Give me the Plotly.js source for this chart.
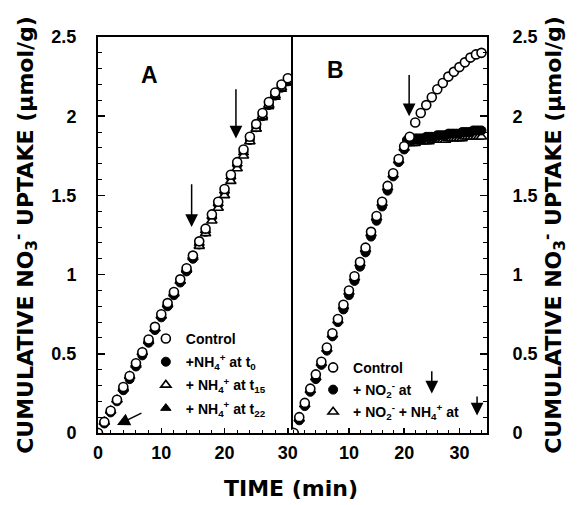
<!DOCTYPE html>
<html>
<head>
<meta charset="utf-8">
<script src="https://cdn.plot.ly/plotly-3.0.1.min.js"></script>
<style>html,body{margin:0;padding:0;background:#fff;}#chart{width:577px;height:505px;}</style>
</head>
<body>
<div id="chart"></div>
<script>
// ---------- Panel A data (time in min, cumulative NO3- uptake in umol/g) ----------
const timeA = [0,1,2,3,4,5,6,7,8,9,10,11,12,13,14,15,16,17,18,19,20,21,22,23,24,25,26,27,28,29,30];
const controlA = [0,0.07,0.14,0.21,0.29,0.36,0.44,0.51,0.59,0.67,0.75,0.82,0.89,0.97,1.04,1.12,1.21,1.29,1.38,1.46,1.54,1.63,1.71,1.79,1.87,1.95,2.02,2.09,2.15,2.20,2.24];
const nh4t0A = [0,0.06,0.13,0.20,0.27,0.34,0.42,0.49,0.57,0.65,0.73,0.80,0.87,0.95,1.02,1.10,1.19,1.27,1.36,1.44,1.52,1.61,1.69,1.77,1.85,1.93,2.00,2.07,2.13,2.18,2.22];
const nh4t15A = [0,0.07,0.14,0.21,0.28,0.36,0.43,0.51,0.58,0.66,0.74,0.81,0.88,0.96,1.03,1.11,1.18,1.26,1.34,1.42,1.50,1.59,1.67,1.75,1.84,1.92,2.00,2.07,2.13,2.18,2.22];
const nh4t22A = [0,0.07,0.14,0.21,0.29,0.36,0.44,0.51,0.59,0.66,0.74,0.82,0.89,0.96,1.04,1.12,1.20,1.28,1.37,1.45,1.53,1.62,1.70,1.77,1.84,1.92,1.99,2.06,2.12,2.17,2.21];

// ---------- Panel B data ----------
const timeB = [0,1,2,3,4,5,6,7,8,9,10,11,12,13,14,15,16,17,18,19,20,21,22,23,24,25,26,27,28,29,30,31,32,33,34];
const controlB = [0,0.10,0.19,0.28,0.37,0.45,0.54,0.63,0.72,0.81,0.90,0.99,1.08,1.17,1.27,1.37,1.46,1.56,1.64,1.73,1.81,1.87,1.96,2.02,2.07,2.12,2.17,2.21,2.25,2.28,2.31,2.34,2.37,2.39,2.40];
const timeBtreated = [0,1,2,3,4,5,6,7,8,9,10,11,12,13,14,15,16,17,18,19,20,20.5,21,21.5,22,22.5,23,23.5,24,24.5,25,25.5,26,26.5,27,27.5,28,28.5,29,29.5,30,30.5,31,31.5,32,32.5,33,33.5,34];
const no2B = [0,0.08,0.17,0.26,0.34,0.43,0.52,0.61,0.70,0.78,0.87,0.96,1.05,1.14,1.24,1.34,1.43,1.53,1.62,1.71,1.79,
  1.85,1.85,1.85,1.86,1.86,1.86,1.86,1.87,1.87,1.87,1.87,1.88,1.88,1.88,1.88,1.89,1.89,1.89,1.89,1.89,1.90,1.90,1.90,1.90,1.91,1.91,1.91,1.91];
const no2nh4B = [0,0.09,0.18,0.27,0.35,0.44,0.53,0.62,0.71,0.80,0.89,0.98,1.07,1.16,1.26,1.36,1.45,1.55,1.63,1.72,1.80,
  1.83,1.83,1.83,1.83,1.84,1.84,1.84,1.84,1.84,1.85,1.85,1.85,1.85,1.85,1.85,1.86,1.86,1.86,1.86,1.86,1.86,1.87,1.87,1.87,1.87,1.87,1.87,1.87];

// ---------- Labels ----------
const yTitle = 'CUMULATIVE NO<sub>3</sub><sup>-</sup> UPTAKE (μmol/g)';
const xTitle = 'TIME (min)';
const namesA = ['Control', '+NH<sub>4</sub><sup>+</sup> at t<sub>0</sub>', '+ NH<sub>4</sub><sup>+</sup> at t<sub>15</sub>', '+ NH<sub>4</sub><sup>+</sup> at t<sub>22</sub>'];
const namesB = ['Control', '+ NO<sub>2</sub><sup>-</sup> at', '+ NO<sub>2</sub><sup>-</sup> + NH<sub>4</sub><sup>+</sup> at'];
const yTicks = [0, 0.5, 1, 1.5, 2, 2.5];
const yTickText = ['0', '0.5', '1', '1.5', '2', '2.5'];
const xTicksA = [0, 10, 20, 30];
const xTickTextA = ['0', '10', '20', '30'];
const xTicksB = [10, 20, 30];
const xTickTextB = ['10', '20', '30'];

const bold = (arr) => arr.map(s => '<b>' + s + '</b>');

const MS = 9;
const openMarker = (sym) => ({symbol: sym, size: MS, color: '#fff', line: {color: '#000', width: 1.6}});
const fillMarker = (sym) => ({symbol: sym, size: MS, color: '#000', line: {color: '#000', width: 1}});

const data = [
  {x: timeA, y: nh4t0A, name: namesA[1], mode: 'markers', marker: fillMarker('circle'), xaxis: 'x', yaxis: 'y', legend: 'legend', legendgroup: 'a1', legendrank: 2},
  {x: timeA, y: nh4t22A, name: namesA[3], mode: 'markers', marker: fillMarker('triangle-up'), xaxis: 'x', yaxis: 'y', legend: 'legend', legendgroup: 'a3', legendrank: 4},
  {x: timeA, y: nh4t15A, name: namesA[2], mode: 'markers', marker: openMarker('triangle-up'), xaxis: 'x', yaxis: 'y', legend: 'legend', legendgroup: 'a2', legendrank: 3},
  {x: timeA, y: controlA, name: namesA[0], mode: 'markers', marker: openMarker('circle'), xaxis: 'x', yaxis: 'y', legend: 'legend', legendgroup: 'a0', legendrank: 1},
  {x: timeBtreated, y: no2nh4B, name: namesB[2], mode: 'markers', marker: openMarker('triangle-up'), xaxis: 'x2', yaxis: 'y2', legend: 'legend2', legendgroup: 'b2', legendrank: 3},
  {x: timeBtreated, y: no2B, name: namesB[1], mode: 'markers', marker: fillMarker('circle'), xaxis: 'x2', yaxis: 'y2', legend: 'legend2', legendgroup: 'b1', legendrank: 2},
  {x: timeB, y: controlB, name: namesB[0], mode: 'markers', marker: openMarker('circle'), xaxis: 'x2', yaxis: 'y2', legend: 'legend2', legendgroup: 'b0', legendrank: 1}
];

const tickFont = {family: 'Liberation Sans, Arial, sans-serif', size: 18, color: '#000'};
const titleFont = {family: 'DejaVu Sans, sans-serif', size: 22, color: '#000', weight: 'bold'};
const legFont = {family: 'Liberation Sans, Arial, sans-serif', size: 14, color: '#000', weight: 'bold'};
const split = 0.4961;

const axisCommon = {showline: true, linewidth: 2, linecolor: '#000', showgrid: false, zeroline: false,
  ticks: 'inside', tickcolor: '#000', tickwidth: 1.5, tickfont: tickFont};

const arrow = (xref, yref, x, y, ax, ay) => ({xref, yref, axref: xref, ayref: yref, x, y, ax, ay, text: '',
  showarrow: true, arrowhead: 2, arrowsize: 1.7, arrowwidth: 1.5, arrowcolor: '#000', standoff: 0});

const layout = {
  width: 577, height: 505,
  margin: {l: 98, r: 90, t: 37, b: 72},
  paper_bgcolor: '#fff', plot_bgcolor: '#fff',
  showlegend: true,
  xaxis: Object.assign({}, axisCommon, {domain: [0, split], range: [0, 30.5], anchor: 'y', mirror: true, tickmode: 'array', tickvals: xTicksA, ticktext: bold(xTickTextA),
    ticklen: 5, ticklabelstandoff: 2, minor: {dtick: 2, tick0: 0, ticks: 'inside', ticklen: 3, tickcolor: '#000', tickwidth: 1}}),
  xaxis2: Object.assign({}, axisCommon, {domain: [split, 1], range: [-0.5, 35], anchor: 'y2', mirror: true, tickmode: 'array', tickvals: xTicksB, ticktext: bold(xTickTextB),
    ticklen: 5, ticklabelstandoff: 2, minor: {dtick: 2, tick0: 0, ticks: 'inside', ticklen: 3, tickcolor: '#000', tickwidth: 1}}),
  yaxis: Object.assign({}, axisCommon, {domain: [0, 1], range: [0, 2.5], anchor: 'x', mirror: true, tickmode: 'array', tickvals: yTicks, ticktext: bold(yTickText),
    ticklen: 7, ticklabelstandoff: 16, minor: {dtick: 0.1, tick0: 0, ticks: 'inside', ticklen: 4, tickcolor: '#000', tickwidth: 1},
    title: {text: yTitle, font: titleFont, standoff: 12}}),
  yaxis2: Object.assign({}, axisCommon, {domain: [0, 1], range: [0, 2.5], anchor: 'x2', side: 'right', mirror: false, tickmode: 'array', tickvals: yTicks, ticktext: bold(yTickText),
    ticklen: 7, ticklabelstandoff: 20, minor: {dtick: 0.1, tick0: 0, ticks: 'inside', ticklen: 4, tickcolor: '#000', tickwidth: 1},
    title: {text: yTitle, font: titleFont, standoff: 4}}),
  legend: {x: 0.123, y: 0.278, xanchor: 'left', yanchor: 'top', bgcolor: 'rgba(0,0,0,0)', borderwidth: 0,
    font: legFont, traceorder: 'grouped', tracegroupgap: 2, itemclick: false},
  legend2: {x: 0.553, y: 0.205, xanchor: 'left', yanchor: 'top', bgcolor: 'rgba(0,0,0,0)', borderwidth: 0,
    font: legFont, traceorder: 'grouped', tracegroupgap: 1, itemclick: false},
  annotations: [
    {xref: 'x', yref: 'y', x: 8.2, y: 2.26, text: '<b>A</b>', showarrow: false, font: {family: 'Liberation Sans, Arial, sans-serif', size: 23, color: '#000'}},
    {xref: 'x2', yref: 'y2', x: 7.5, y: 2.29, text: '<b>B</b>', showarrow: false, font: {family: 'Liberation Sans, Arial, sans-serif', size: 23, color: '#000'}},
    {xref: 'paper', yref: 'paper', x: split, y: -0.141, xanchor: 'center', yanchor: 'middle', text: '<b>' + xTitle + '</b>', showarrow: false, font: titleFont},
    arrow('x', 'y', 14.8, 1.30, 14.8, 1.58),
    arrow('x', 'y', 21.8, 1.86, 21.8, 2.18),
    arrow('x', 'y', 3.0, 0.05, 7.1, 0.13),
    arrow('x2', 'y2', 20.9, 2.0, 20.9, 2.27),
    arrow('x2', 'y2', 25.0, 0.25, 25.0, 0.40),
    arrow('x2', 'y2', 33.2, 0.11, 33.2, 0.24)
  ]
};

Plotly.newPlot('chart', data, layout, {displayModeBar: false, staticPlot: true});
</script>
</body>
</html>
